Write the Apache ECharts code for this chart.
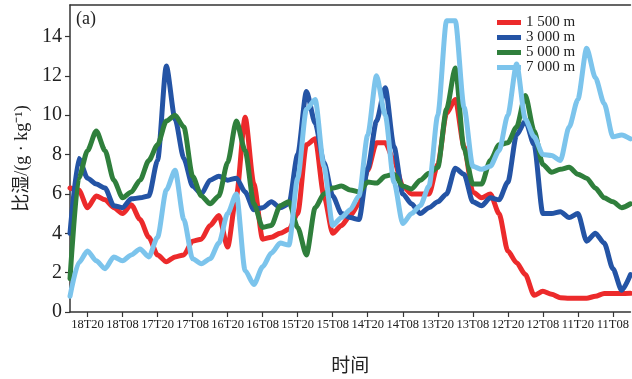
<!DOCTYPE html>
<html>
<head>
<meta charset="utf-8">
<script src="https://cdn.jsdelivr.net/npm/echarts@6/dist/echarts.min.js"></script>
<style>
html,body{margin:0;padding:0;background:#fff;}
#c{width:632px;height:379px;}
</style>
</head>
<body>
<div id="c"></div>
<script>
// 3-hourly time categories, from 19T02 back to 11T02
const times = ['19T02',
 '18T23','18T20','18T17','18T14','18T11','18T08','18T05','18T02',
 '17T23','17T20','17T17','17T14','17T11','17T08','17T05','17T02',
 '16T23','16T20','16T17','16T14','16T11','16T08','16T05','16T02',
 '15T23','15T20','15T17','15T14','15T11','15T08','15T05','15T02',
 '14T23','14T20','14T17','14T14','14T11','14T08','14T05','14T02',
 '13T23','13T20','13T17','13T14','13T11','13T08','13T05','13T02',
 '12T23','12T20','12T17','12T14','12T11','12T08','12T05','12T02',
 '11T23','11T20','11T17','11T14','11T11','11T08','11T05','11T02'];

const tickLabels = ['18T20','18T08','17T20','17T08','16T20','16T08','15T20','15T08',
 '14T20','14T08','13T20','13T08','12T20','12T08','11T20','11T08'];

const seriesNames = ['1 500 m','3 000 m','5 000 m','7 000 m'];

const q1500 = [6.3,6.2,5.3,5.9,5.7,5.3,5.0,5.45,4.7,3.8,
 2.9,2.55,2.8,2.9,3.6,3.7,4.4,4.9,3.3,5.9,
 9.9,6.5,3.7,3.8,4.0,4.2,5.0,8.5,8.8,5.9,
 4.0,4.4,4.9,5.5,7.2,8.6,8.6,7.7,6.4,6.0,
 6.0,6.0,7.5,10.1,10.8,8.4,6.1,5.8,6.0,5.0,
 3.1,2.5,1.9,0.85,1.05,0.9,0.72,0.7,0.7,0.7,
 0.8,0.94,0.94,0.94,0.95];

const q3000 = [4.0,7.8,6.8,6.5,6.3,5.4,5.3,5.75,5.8,5.9,
 7.7,12.5,9.8,7.8,6.4,6.0,6.7,6.9,6.7,6.8,
 6.1,5.2,5.3,5.6,5.3,5.5,8.0,11.2,9.6,7.6,
 5.9,5.0,4.8,4.7,7.3,9.7,11.4,8.4,6.0,5.5,
 5.0,5.3,5.6,6.0,7.3,7.0,5.6,5.4,5.8,5.7,
 6.6,9.0,9.7,8.5,5.0,5.0,5.1,4.8,5.0,3.6,
 4.0,3.5,2.2,1.1,1.9];

const q5000 = [1.7,6.8,8.2,9.2,8.2,6.7,5.8,6.1,6.7,7.7,
 8.5,9.7,10.0,9.4,6.9,5.9,5.5,5.9,7.6,9.7,
 8.2,5.5,4.3,4.4,5.4,5.6,4.3,2.9,5.3,6.0,
 6.3,6.4,6.2,6.1,6.6,6.55,6.9,7.0,6.4,6.25,
 6.7,7.05,7.35,10.3,12.4,8.3,6.5,6.5,7.7,8.5,
 8.6,9.4,11.0,9.2,7.5,7.1,7.25,7.35,7.0,6.8,
 6.3,5.8,5.6,5.3,5.5];

const q7000 = [0.8,2.5,3.1,2.6,2.2,2.8,2.6,2.9,3.2,2.8,
 3.8,6.2,7.2,4.7,2.7,2.45,2.7,3.5,5.0,6.0,
 2.1,1.4,2.3,3.0,3.5,3.4,6.8,10.3,10.8,7.4,
 4.4,4.8,5.2,5.9,9.0,12.0,10.0,6.6,4.5,5.0,
 5.4,6.4,10.0,14.8,14.8,10.4,7.4,7.25,7.4,8.2,
 10.0,12.6,9.8,8.9,8.0,7.95,7.7,9.4,10.8,13.4,
 11.9,10.6,8.9,9.0,8.8];

const colors = ['#ec2a2b','#2454a5','#2f7f3c','#7cc4ec'];
const dataSets = [q1500, q3000, q5000, q7000];

const chart = echarts.init(document.getElementById('c'), null, {renderer:'canvas'});
const serif = "'Liberation Serif','DejaVu Serif',serif";
const axisColor = '#333';
const isTick = (idx, val) => tickLabels.indexOf(val) >= 0;

chart.setOption({
  animation: false,
  backgroundColor: '#fff',
  grid: {left: 70, right: 0, top: 5, bottom: 59, containLabel: false},
  legend: {
    orient: 'vertical', left: 492, top: 10,
    itemWidth: 24, itemHeight: 5, itemGap: 0, icon: 'rect',
    textStyle: {fontFamily: serif, fontSize: 15, color: '#222', lineHeight: 13.6},
    data: seriesNames
  },
  graphic: [{
    type: 'text', left: 76, top: 10,
    style: {text: '(a)', font: "18px 'Liberation Serif', serif", fill: '#222'}
  }],
  xAxis: [{
    type: 'category', data: times, boundaryGap: false,
    name: '时间', nameLocation: 'middle', nameGap: 43,
    nameTextStyle: {fontFamily: "'Noto Sans CJK SC', sans-serif", fontSize: 19, color: '#222'},
    axisLine: {lineStyle: {color: axisColor, width: 1.5}},
    axisTick: {interval: isTick, length: 5, lineStyle: {color: axisColor, width: 1.2}},
    axisLabel: {interval: isTick, fontFamily: serif, fontSize: 12.5, color: '#222', margin: 6}
  }, {
    type: 'category', data: times, boundaryGap: false, position: 'top',
    axisLine: {lineStyle: {color: axisColor, width: 1.5}},
    axisTick: {show: false}, axisLabel: {show: false}
  }],
  yAxis: {
    type: 'value', min: 0, max: 15.6, interval: 2,
    name: '比湿/(g · kg⁻¹)', nameLocation: 'middle', nameGap: 36, nameRotate: 90,
    nameTextStyle: {fontFamily: "'Liberation Serif','Noto Sans CJK SC',serif", fontSize: 18, color: '#222'},
    axisLine: {show: true, lineStyle: {color: axisColor, width: 1.5}},
    axisTick: {show: true, length: 5, lineStyle: {color: axisColor, width: 1.2}},
    axisLabel: {fontFamily: serif, fontSize: 20, color: '#222', margin: 8, showMaxLabel: false},
    splitLine: {show: false}
  },
  series: dataSets.map((d, k) => ({
    name: seriesNames[k], type: 'line', data: d,
    symbol: 'none', smooth: 0.25, smoothMonotone: 'x',
    itemStyle: {color: colors[k]},
    lineStyle: {color: colors[k], width: 5, cap: 'round', join: 'round'},
    z: 2 + k
  }))
});
</script>
</body>
</html>
